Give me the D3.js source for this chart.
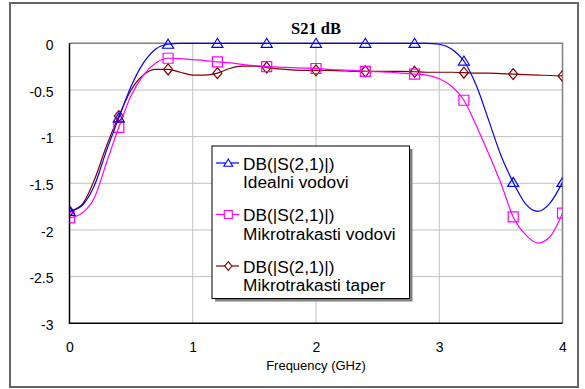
<!DOCTYPE html>
<html>
<head>
<meta charset="utf-8">
<script src="https://cdn.jsdelivr.net/npm/d3@7"></script>
<style>
  body { margin: 0; background: #fff; }
  svg text { font-family: "Liberation Sans", Arial, sans-serif; }
</style>
</head>
<body>
<div id="chart"></div>
<script>
// frequency grid, 0.1 GHz step
var freq = d3.range(41).map(function(i) { return +(i * 0.1).toFixed(1); });

var idealni = [
  -1.80, -1.74, -1.53, -1.15, -0.80, -0.46, -0.21, -0.06, -0.01, 0, 0,
  0, 0, 0, 0, 0, 0, 0, 0, 0, 0,
  0, 0, 0, 0, 0, 0, 0, 0, 0, -0.01,
  -0.06, -0.19, -0.45, -0.82, -1.20, -1.49, -1.72, -1.80, -1.71, -1.49
];
var mikrotrakasti = [
  -1.87, -1.82, -1.66, -1.28, -0.90, -0.56, -0.34, -0.21, -0.16, -0.165, -0.175,
  -0.185, -0.20, -0.21, -0.225, -0.24, -0.25, -0.255, -0.26, -0.265, -0.27,
  -0.28, -0.285, -0.29, -0.30, -0.305, -0.31, -0.32, -0.33, -0.34, -0.38,
  -0.46, -0.61, -0.88, -1.18, -1.50, -1.86, -2.05, -2.14, -2.07, -1.82
];
var taper = [
  -1.80, -1.73, -1.47, -1.10, -0.78, -0.50, -0.34, -0.28, -0.28, -0.31, -0.34,
  -0.34, -0.32, -0.27, -0.245, -0.245, -0.26, -0.275, -0.285, -0.29, -0.29,
  -0.29, -0.295, -0.30, -0.30, -0.30, -0.30, -0.30, -0.305, -0.31, -0.31,
  -0.31, -0.315, -0.32, -0.32, -0.325, -0.33, -0.335, -0.34, -0.345, -0.35
];

var xTicks = [0, 1, 2, 3, 4];
var yTicks = [0, -0.5, -1, -1.5, -2, -2.5, -3];
var legendNames = ["Idealni vodovi", "Mikrotrakasti vodovi", "Mikrotrakasti taper"];
var seriesLabel = "DB(|S(2,1)|)";

var series = [
  { name: legendNames[0], values: idealni, color: "#0000ff", marker: "triangle" },
  { name: legendNames[1], values: mikrotrakasti, color: "#ff00ff", marker: "square" },
  { name: legendNames[2], values: taper, color: "#800000", marker: "diamond" }
];

var W = 585, H = 389;
var plot = { left: 69.5, right: 562.5, top: 43.3, bottom: 323.3 };

var svg = d3.select("#chart").append("svg").attr("width", W).attr("height", H);

// outer frame
svg.append("rect").attr("x", 10).attr("y", 3).attr("width", 568).attr("height", 384)
  .attr("fill", "#fff").attr("stroke", "#666").attr("stroke-width", 2);

var x = d3.scaleLinear().domain([0, 4]).range([plot.left, plot.right]);
var y = d3.scaleLinear().domain([-3, 0]).range([plot.bottom, plot.top]);

svg.append("defs").append("clipPath").attr("id", "clip").append("rect")
  .attr("x", plot.left).attr("y", plot.top - 6)
  .attr("width", plot.right - plot.left).attr("height", plot.bottom - plot.top + 6);

// grid
var grid = svg.append("g").attr("stroke", "#c0c0c0").attr("stroke-width", 1);
grid.selectAll(".gx").data(xTicks.slice(1, -1)).enter().append("line")
  .attr("x1", function(d) { return x(d); }).attr("x2", function(d) { return x(d); })
  .attr("y1", plot.top).attr("y2", plot.bottom);
grid.selectAll(".gy").data(yTicks.slice(1, -1)).enter().append("line")
  .attr("y1", function(d) { return y(d); }).attr("y2", function(d) { return y(d); })
  .attr("x1", plot.left).attr("x2", plot.right);

// plot border: top/right gray, left/bottom black
svg.append("path").attr("fill", "none").attr("stroke", "#808080").attr("stroke-width", 1.5)
  .attr("d", "M" + plot.left + "," + plot.top + "H" + plot.right + "V" + plot.bottom);
svg.append("path").attr("fill", "none").attr("stroke", "#000").attr("stroke-width", 1.5)
  .attr("d", "M" + plot.left + "," + plot.top + "V" + plot.bottom + "H" + plot.right);

// axes labels
var xAxis = d3.axisBottom(x).tickValues(xTicks).tickSize(0).tickPadding(19).tickFormat(d3.format("d"));
var gx = svg.append("g").attr("transform", "translate(0," + plot.bottom + ")").call(xAxis);
gx.select(".domain").remove();
gx.selectAll("text").attr("font-size", 14).attr("font-family", "Liberation Sans, Arial").attr("fill", "#000");

var yAxis = d3.axisLeft(y).tickValues(yTicks).tickSize(0).tickPadding(16).tickFormat(function(d) { return d === 0 ? "0" : String(d); });
var gy = svg.append("g").attr("transform", "translate(" + plot.left + ",0)").call(yAxis);
gy.select(".domain").remove();
gy.selectAll("text").attr("font-size", 14).attr("font-family", "Liberation Sans, Arial").attr("fill", "#000").attr("dy", "0.45em");

svg.append("text").attr("x", (plot.left + plot.right) / 2).attr("y", 370)
  .attr("text-anchor", "middle").attr("font-size", 13).text("Frequency (GHz)");

svg.append("text").attr("x", 316).attr("y", 33.5).attr("text-anchor", "middle")
  .attr("font-size", 16.5).attr("font-weight", "bold")
  .style("font-family", "'Liberation Serif', 'Times New Roman', serif").text("S21 dB");

// markers
function markerPath(type) {
  if (type === "triangle") return "M0,-5L5.5,4L-5.5,4Z";
  if (type === "square") return "M-5,-5H5V5H-5Z";
  return "M0,-5.5L4.5,0L0,5.5L-4.5,0Z";
}

var line = d3.line()
  .x(function(d, i) { return x(freq[i]); })
  .y(function(d) { return y(d); })
  .curve(d3.curveMonotoneX);

var plotG = svg.append("g").attr("clip-path", "url(#clip)");
series.slice().reverse().forEach(function(s) {
  plotG.append("path").attr("d", line(s.values)).attr("fill", "none")
    .attr("stroke", s.color).attr("stroke-width", 1.2);
  var pts = s.values.map(function(v, i) { return { f: freq[i], v: v }; })
    .filter(function(d, i) { return i % 4 === 0; });
  plotG.selectAll(null).data(pts).enter().append("path")
    .attr("d", markerPath(s.marker))
    .attr("transform", function(d) { return "translate(" + x(d.f) + "," + y(d.v) + ")"; })
    .attr("fill", "none").attr("stroke", s.color).attr("stroke-width", 1.2);
});

// legend
var lg = svg.append("g");
lg.append("rect").attr("x", 215).attr("y", 149).attr("width", 197.5).attr("height", 152.5).attr("fill", "#808080");
lg.append("rect").attr("x", 212).attr("y", 146).attr("width", 197.5).attr("height", 152.5)
  .attr("fill", "#fff").attr("stroke", "#000").attr("stroke-width", 1);

series.forEach(function(s, i) {
  var ly = 163 + i * 51.5;
  lg.append("line").attr("x1", 216).attr("x2", 239).attr("y1", ly).attr("y2", ly)
    .attr("stroke", s.color).attr("stroke-width", 1.2);
  lg.append("path").attr("d", markerPath(s.marker))
    .attr("transform", "translate(228.3," + ly + ") scale(0.8)")
    .attr("fill", "#fff").attr("stroke", s.color).attr("stroke-width", 1.4);
  lg.append("text").attr("x", 243).attr("y", ly + 6.5).attr("font-size", 17.3).text(seriesLabel);
  lg.append("text").attr("x", 243).attr("y", ly + 25).attr("font-size", 17.3).text(s.name);
});
</script>
</body>
</html>
